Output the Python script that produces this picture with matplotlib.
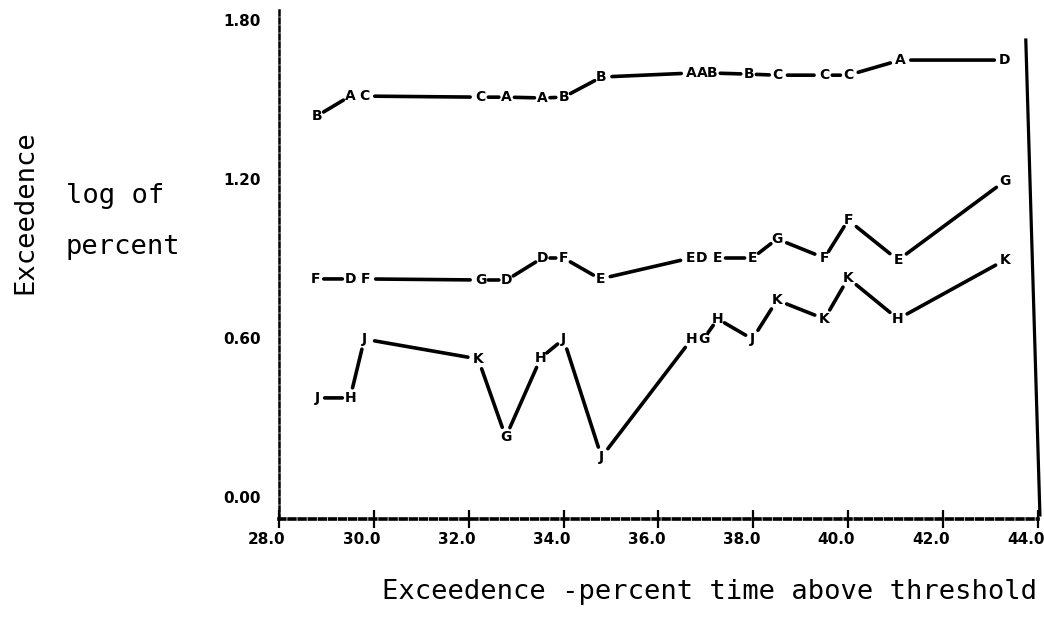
import matplotlib
matplotlib.use("Agg")
import matplotlib.pyplot as plt
from matplotlib.transforms import ScaledTranslation
import numpy as np

# posiciones en el eje x (porcentaje de tiempo sobre el umbral)
x_alto = [28.8, 29.5, 29.8, 32.25, 32.8, 33.55, 34.0, 34.8, 36.7, 36.92, 37.14, 37.9, 38.5, 39.5, 40.0, 41.1, 43.3]
x_medio = [28.78, 29.5, 29.82, 32.25, 32.8, 33.55, 34.0, 34.77, 36.68, 36.9, 37.25, 37.98, 38.5, 39.5, 40.0, 41.05, 43.3]
x_bajo = [28.8, 29.5, 29.8, 32.2, 32.78, 33.52, 34.0, 34.8, 36.7, 36.95, 37.25, 37.98, 38.5, 39.5, 40.0, 41.05, 43.3]

# curva superior
y_alto = [1.438, 1.513, 1.513, 1.509, 1.509, 1.506, 1.509, 1.585, 1.600, 1.600, 1.600,
          1.596, 1.592, 1.592, 1.592, 1.649, 1.649]
letras_alto = ["B", "A", "C", "C", "A", "A", "B", "B", "A", "A", "B", "B", "C", "C", "C", "A", "D"]

# curva media
y_medio = [0.823, 0.823, 0.823, 0.819, 0.819, 0.902, 0.902, 0.823, 0.902, 0.902, 0.902,
           0.902, 0.974, 0.902, 1.045, 0.894, 1.192]
letras_medio = ["F", "D", "F", "G", "D", "D", "F", "E", "E", "D", "E", "E", "G", "F", "F", "E", "G"]

# curva inferior
y_bajo = [0.374, 0.374, 0.596, 0.521, 0.226, 0.525, 0.596, 0.151, 0.596, 0.596, 0.672,
          0.596, 0.743, 0.672, 0.826, 0.672, 0.894]
letras_bajo = ["J", "H", "J", "K", "G", "H", "J", "J", "H", "G", "H", "J", "K", "K", "K", "H", "K"]

xticks = [28.0, 30.0, 32.0, 34.0, 36.0, 38.0, 40.0, 42.0, 44.0]
yticks = [0.00, 0.60, 1.20, 1.80]

fig = plt.figure(figsize=(10.44, 6.32), dpi=100)
ax = fig.add_axes([0.2672, 0.1788, 0.727, 0.8054])
ax.set_xlim(28.0, 44.0)
ax.set_ylim(-0.083, 1.838)


def dibujar_curva(xs, ys, letras):
    # segmentos con hueco alrededor de cada letra
    pix = ax.transData.transform(np.column_stack([xs, ys]))
    for i in range(len(xs) - 1):
        dist = np.hypot(*(pix[i + 1] - pix[i]))
        if dist < 19:
            continue
        hueco = 5.6 if dist < 45 else 7.5
        ax.annotate("", xy=(xs[i + 1], ys[i + 1]), xytext=(xs[i], ys[i]),
                    arrowprops=dict(arrowstyle="-", lw=2.6, color="black",
                                    shrinkA=hueco, shrinkB=hueco))
    for x, y, l in zip(xs, ys, letras):
        ax.text(x, y, l, ha="center", va="center", fontsize=10,
                fontweight="bold", color="black")


dibujar_curva(x_alto, y_alto, letras_alto)
dibujar_curva(x_medio, y_medio, letras_medio)
dibujar_curva(x_bajo, y_bajo, letras_bajo)

# ejes punteados como en la impresora de linea
for s in ["top", "right"]:
    ax.spines[s].set_visible(False)
ax.spines["left"].set_linestyle((0, (2, 1.2)))
ax.spines["left"].set_linewidth(1.8)
ax.spines["bottom"].set_linestyle((0, (1.6, 1.2)))
ax.spines["bottom"].set_linewidth(2.6)

ax.set_xticks(xticks)
ax.set_xticklabels([f"{t:.1f}" for t in xticks])
ax.set_yticks(yticks)
ax.set_yticklabels([f"{t:.2f}" for t in yticks])
ax.tick_params(axis="x", direction="inout", length=13, width=1.6, pad=3,
               labelsize=11)
ax.tick_params(axis="y", length=0, pad=13, labelsize=11)
for lbl in ax.get_xticklabels() + ax.get_yticklabels():
    lbl.set_fontweight("bold")
for lbl in ax.get_xticklabels():
    lbl.set_transform(lbl.get_transform() + ScaledTranslation(-0.12, 0, fig.dpi_scale_trans))

# borde derecho del escaneo
ax.plot([0.984, 1.0026], [0.941, 0.008], transform=ax.transAxes, color="black",
        lw=2.3, clip_on=False)

# textos de los ejes
fig.text(25 / 1044, 1 - 212 / 632, "Exceedence", rotation=90, ha="center", va="center",
         fontsize=19.5, family="DejaVu Sans Mono")
fig.text(66 / 1044, 1 - 196 / 632, "log of", ha="left", va="center",
         fontsize=19.5, family="DejaVu Sans Mono")
fig.text(65 / 1044, 1 - 247 / 632, "percent", ha="left", va="center",
         fontsize=19.5, family="DejaVu Sans Mono")
fig.text(710 / 1044, 1 - 592 / 632, "Exceedence -percent time above threshold",
         ha="center", va="center", fontsize=19.5, family="DejaVu Sans Mono")

fig.savefig("out.png", dpi=100, facecolor="white")
